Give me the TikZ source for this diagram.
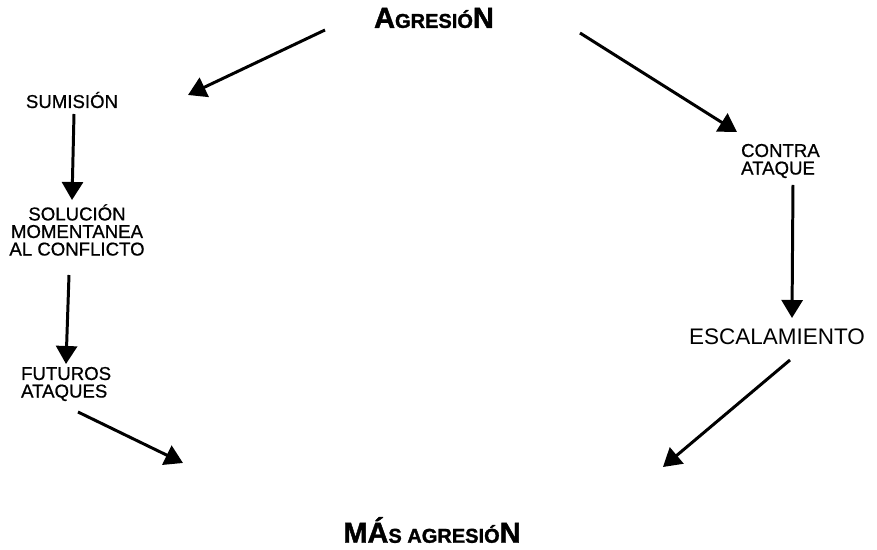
\documentclass[tikz,border=0pt]{standalone}
\usepackage{fontspec}
\setmainfont{Liberation Sans}
\newfontfamily\heavyfont[FakeBold=1.5]{Liberation Sans Bold}
\newfontfamily\labelfont[FakeBold=0.7]{Liberation Sans}
\usetikzlibrary{arrows.meta}
\newcommand{\capbig}[1]{{\fontsize{16.5pt}{18pt}\selectfont #1}}
\newcommand{\capsmall}[1]{{\fontsize{11.4pt}{13pt}\selectfont #1}}

\begin{document}
\begin{tikzpicture}[
    x=0.02cm, y=-0.02cm,
    lbl/.style={align=center, inner sep=1pt, font=\labelfont\fontsize{10.6pt}{10pt}\selectfont},
    title/.style={inner sep=1pt, font=\heavyfont},
    arrow/.style={-{Triangle[length=3.6mm, width=4.2mm]}, line width=1.7pt}
  ]
    \useasboundingbox (0,0) rectangle (877,550);

    \node[title] (agr) at (434,18) {\capbig{A}\capsmall{GRESIÓ}\capbig{N}};
    \node[lbl] (sum) at (72,100) {SUMISIÓN};
    \node[lbl] (sol) at (77,230) {SOLUCIÓN\\MOMENTANEA\\AL CONFLICTO};
    \node[lbl, align=left, anchor=west] (fut) at (19,384) {FUTUROS\\ATAQUES};
    \node[lbl, align=left, anchor=west] (con) at (739,161) {CONTRA\\ATAQUE};
    \node[lbl, font=\fontsize{12.8pt}{14pt}\selectfont] (esc) at (777,337) {ESCALAMIENTO};
    \node[title] (mas) at (432,530) {\capbig{MÁ}\capsmall{S AGRESIÓ}\capbig{N}};

    % lado izquierdo
    \draw[arrow] ([shift={(-109,12)}]agr.center) -- ([shift={(116,-5)}]sum.center);
    \draw[arrow] ([shift={(2,14)}]sum.center) -- ([shift={(-5,-30)}]sol.center);
    \draw[arrow] ([shift={(-8,45)}]sol.center) -- ([shift={(47,-20)}]fut.west);
    \draw[arrow] ([shift={(59,28)}]fut.west) -- ([shift={(-249,-67)}]mas.center);
    % lado derecho
    \draw[arrow] ([shift={(146,15)}]agr.center) -- ([shift={(-2,-29)}]con.west);
    \draw[arrow] ([shift={(54,24)}]con.west) -- ([shift={(15,-19)}]esc.center);
    \draw[arrow] ([shift={(13,23)}]esc.center) -- ([shift={(231,-63)}]mas.center);
  \end{tikzpicture}
\end{document}
